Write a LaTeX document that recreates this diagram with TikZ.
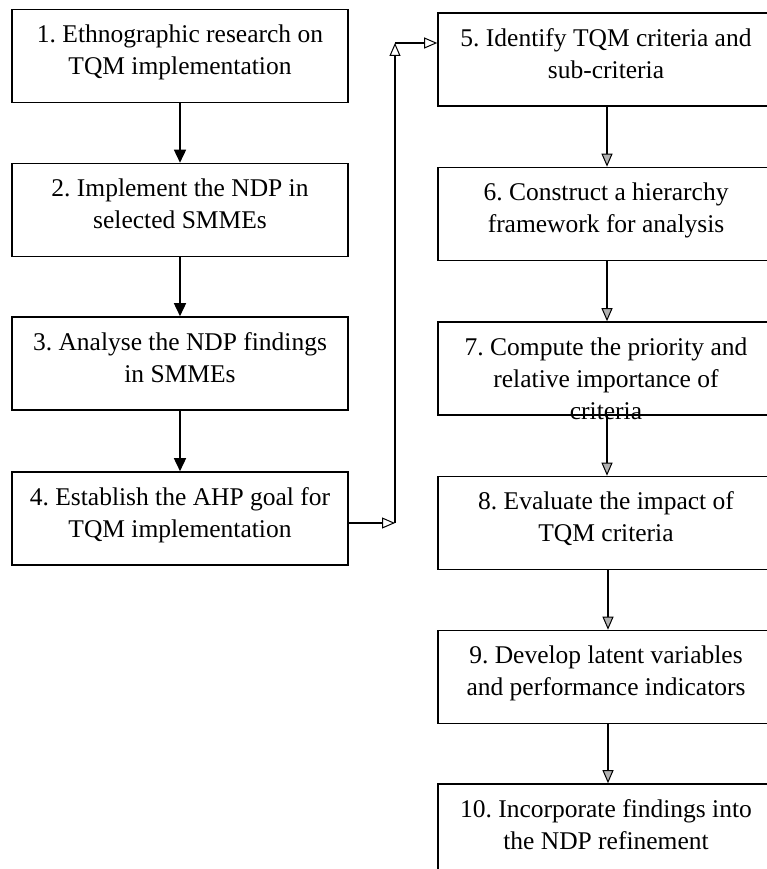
\documentclass[tikz,border=0pt]{standalone}
\usepackage{fontspec}
\setmainfont{Liberation Serif}
\usetikzlibrary{arrows.meta}
\frenchspacing
\begin{document}
\begin{tikzpicture}[x=1pt,y=-1pt,
  box/.style={draw=black, line width=1.6pt, minimum width=336pt, minimum height=93pt, inner sep=0pt},
  txt/.style={font=\fontsize{25.5}{32}\selectfont\frenchspacing, align=center, inner sep=0pt, anchor=north},
  solidarr/.style={line width=1.6pt, -{Triangle[length=13pt,width=12pt]}},
  grayarr/.style={line width=1.6pt, -{Triangle[length=13pt,width=11pt,line width=1pt,fill=gray!60]}},
  openarr/.style={line width=1.6pt, -{Triangle[length=13pt,width=11pt,line width=1pt,fill=white]}}
]
\useasboundingbox (0,0) rectangle (767,869);
\clip (0,0) rectangle (767,869);
% left column
\node[box] (b1) at (180,56) {};
\node[box] (b2) at (180,210) {};
\node[box] (b3) at (180,363.5) {};
\node[box] (b4) at (180,518.5) {};
% right column
\node[box] (b5) at (606,59.5) {};
\node[box] (b6) at (606,214) {};
\node[box] (b7) at (606,368.5) {};
\node[box] (b8) at (606,523) {};
\node[box] (b9) at (606,677) {};
\node[box] (b10) at (606,830.5) {};
% texts
\node[txt] (t1) at ([yshift=-16pt]b1.north) {1. Ethnographic research on\\TQM implementation};
\node[txt] (t2) at ([yshift=-16pt]b2.north) {2. Implement the NDP in\\selected SMMEs};
\node[txt] (t3) at ([yshift=-16pt]b3.north) {3. Analyse the NDP findings\\in SMMEs};
\node[txt] (t4) at ([yshift=-16pt]b4.north) {4. Establish the AHP goal for\\TQM implementation};
\node[txt] (t5) at ([yshift=-16pt]b5.north) {5. Identify TQM criteria and\\sub-criteria};
\node[txt] (t6) at ([yshift=-16pt]b6.north) {6. Construct a hierarchy\\framework for analysis};
\node[txt] (t7) at ([yshift=-16pt]b7.north) {7. Compute the priority and\\relative importance of\\criteria};
\node[txt] (t8) at ([yshift=-16pt]b8.north) {8. Evaluate the impact of\\TQM criteria};
\node[txt] (t9) at ([yshift=-16pt]b9.north) {9. Develop latent variables\\and performance indicators};
\node[txt] (t10) at ([yshift=-16pt]b10.north) {10. Incorporate findings into\\the NDP refinement};
% left arrows
\draw[solidarr] (b1) -- (b2);
\draw[solidarr] (b2) -- (b3);
\draw[solidarr] (b3) -- (b4);
% right arrows
\draw[grayarr] ([xshift=1pt]b5.south) -- ([xshift=1pt]b6.north);
\draw[grayarr] ([xshift=1pt]b6.south) -- ([xshift=1pt]b7.north);
\draw[grayarr] ([xshift=1pt]b7.south) -- ([xshift=1pt]b8.north);
\draw[grayarr] ([xshift=2pt]b8.south) -- ([xshift=2pt]b9.north);
\draw[grayarr] ([xshift=2pt]b9.south) -- ([xshift=2pt]b10.north);
% connector 4 -> 5
\coordinate (c0) at (b4.east |- 0,523);
\coordinate (c1) at (395,523);
\coordinate (c2) at (395,43);
\coordinate (c3) at (b5.west |- c2);
\draw[openarr] (c0) -- (c1);
\draw[openarr] (c1) -- (c2);
\draw[openarr] (c2) -- (c3);
\end{tikzpicture}
\end{document}
